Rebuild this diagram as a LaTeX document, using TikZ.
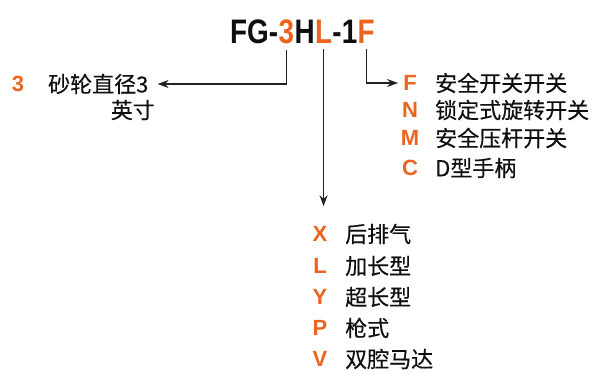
\documentclass[tikz,border=0pt]{standalone}
\usepackage{fontspec}
\setmainfont{Liberation Sans}
\newfontfamily\cjk[FakeBold=0.3]{Noto Sans CJK SC}
\usetikzlibrary{arrows.meta}
\definecolor{orng}{RGB}{235,100,30}
\definecolor{txt}{RGB}{15,15,15}
\definecolor{ln}{RGB}{35,35,35}
\newcommand{\narrow}[1]{\scalebox{0.82}[1]{#1}}
\begin{document}
\begin{tikzpicture}[x=1pt,y=-1pt,
  code/.style={font=\fontsize{22}{26}\selectfont\bfseries, text=orng, inner sep=0pt},
  desc/.style={font=\fontsize{22}{26}\cjk, text=txt, inner sep=0pt, anchor=west},
  ttl/.style={font=\fontsize{34}{38}\selectfont\bfseries, text=txt, inner sep=0pt, anchor=base west},
  conn/.style={draw=ln, line width=1.3pt},
  tip/.style={-{Stealth[length=11pt,width=8pt]}}]
\useasboundingbox (0,0) rectangle (603,373);
% title
\node[ttl] (t1) at (230,43) {\narrow{FG-}};
\node[ttl,text=orng] (t3) at (t1.base east) {\narrow{3}};
\node[ttl] (tH) at (t3.base east) {\narrow{H}};
\node[ttl,text=orng] (tL) at (tH.base east) {\narrow{L}};
\node[ttl] (t4) at (tL.base east) {\narrow{-1}};
\node[ttl,text=orng] (tF) at (t4.base east) {\narrow{F}};
% left
\node[code] (k3) at (18,84) {3};
\node[desc] (d3) at (48,84) {砂轮直径3};
\node[desc,anchor=east] (d3b) at (155,110) {英寸};
% right
\node[code] (kF) at (410,83) {F};
\node[desc] (dF) at (435,83) {安全开关开关};
\node[code] (kN) at (410,110) {N};
\node[desc] (dN) at (435,110) {锁定式旋转开关};
\node[code] (kM) at (410,138) {M};
\node[desc] (dM) at (435,138) {安全压杆开关};
\node[code] (kC) at (410,168) {C};
\node[desc] (dC) at (435,168) {D型手柄};
% bottom
\node[code] (kX) at (320,234) {X};
\node[desc] (dX) at (345,234) {后排气};
\node[code] (kL) at (320,266) {L};
\node[desc] (dL) at (345,266) {加长型};
\node[code] (kY) at (320,297) {Y};
\node[desc] (dY) at (345,297) {超长型};
\node[code] (kP) at (320,328) {P};
\node[desc] (dP) at (345,328) {枪式};
\node[code] (kV) at (320,359) {V};
\node[desc] (dV) at (345,359) {双腔马达};
% connectors
\draw[conn,tip,shorten >=9pt] ([yshift=-6pt]t3.south) |- (d3.east);
\draw[conn,tip,shorten >=5pt] ([yshift=-6pt]tF.south) |- (kF.west);
\draw[conn,tip,shorten >=20pt] ([yshift=-6pt]tL.south) -- (tL.south |- kX.north);
\end{tikzpicture}
\end{document}
